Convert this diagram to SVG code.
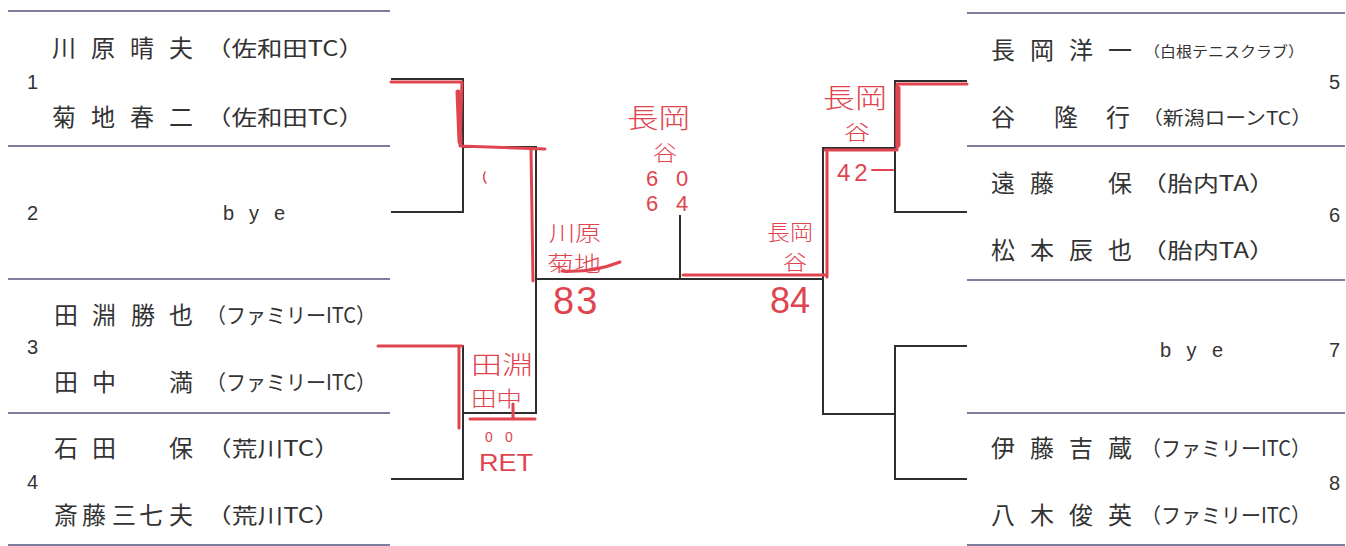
<svg xmlns="http://www.w3.org/2000/svg" width="1346" height="546" viewBox="0 0 1346 546">
<style>
.sep{stroke:#7f7d9e;stroke-width:2;fill:none}
.br{stroke:#2e2e2e;stroke-width:2;fill:none}
.nm{font-family:"Noto Sans CJK JP",sans-serif;font-size:24px;fill:#333}
.cl{font-family:"Noto Sans CJK JP",sans-serif;font-size:21px;fill:#333}
.sd{font-family:"Liberation Sans",Arial,sans-serif;font-size:20px;fill:#333}
.hw{font-family:"Noto Sans CJK JP",sans-serif;font-weight:300;fill:#e0444f}
.hd{font-family:"Liberation Sans",Arial,sans-serif;fill:#e0444f}
.rl{stroke:#e0444f;stroke-width:3;fill:none;stroke-linecap:round;stroke-linejoin:round}
</style>
<rect width="1346" height="546" fill="#fff"/>
<g id="separators">
<path class="sep" d="M8,11H390M8,146H390M8,279H390M8,413H390M8,545H390"/>
<path class="sep" d="M967,13H1345M967,146H1345M967,280H1345M967,413H1345M967,545H1345"/>
</g>
<g id="entry-1">
<text class="sd" x="27" y="89">1</text>
<text class="nm" x="52 91 130 169" y="57">川原晴夫</text>
<text class="cl" x="206" y="56" textLength="158" lengthAdjust="spacingAndGlyphs">（佐和田TC）</text>
<text class="nm" x="52 91 130 169" y="126">菊地春二</text>
<text class="cl" x="206" y="125" textLength="158" lengthAdjust="spacingAndGlyphs">（佐和田TC）</text>
</g>
<g id="entry-2">
<text class="sd" x="27" y="220">2</text>
<text class="sd" x="223" y="220" textLength="62" lengthAdjust="spacing">b y e</text>
</g>
<g id="entry-3">
<text class="sd" x="27" y="354">3</text>
<text class="nm" x="54 92 131 169" y="324">田淵勝也</text>
<text class="cl" x="206" y="323" textLength="170" lengthAdjust="spacingAndGlyphs">（ファミリーITC）</text>
<text class="nm" x="54 92 169" y="391">田中満</text>
<text class="cl" x="206" y="390" textLength="170" lengthAdjust="spacingAndGlyphs">（ファミリーITC）</text>
</g>
<g id="entry-4">
<text class="sd" x="27" y="489">4</text>
<text class="nm" x="54 92 169" y="457">石田保</text>
<text class="cl" x="206" y="456" textLength="134" lengthAdjust="spacingAndGlyphs">（荒川TC）</text>
<text class="nm" x="54 82 112 139 169" y="524">斎藤三七夫</text>
<text class="cl" x="206" y="523" textLength="134" lengthAdjust="spacingAndGlyphs">（荒川TC）</text>
</g>
<g id="entry-5">
<text class="sd" x="1329" y="89">5</text>
<text class="nm" x="991 1030 1069 1108" y="59">長岡洋一</text>
<text class="cl" x="1144" y="57" style="font-size:15px" textLength="160" lengthAdjust="spacingAndGlyphs">（白根テニスクラブ）</text>
<text class="nm" x="991 1054 1106" y="126">谷隆行</text>
<text class="cl" x="1142" y="125" style="font-size:19px" textLength="170" lengthAdjust="spacingAndGlyphs">（新潟ローンTC）</text>
</g>
<g id="entry-6">
<text class="sd" x="1329" y="222">6</text>
<text class="nm" x="991 1030 1108" y="192">遠藤保</text>
<text class="cl" x="1141" y="191" textLength="134" lengthAdjust="spacingAndGlyphs">（胎内TA）</text>
<text class="nm" x="991 1030 1069 1108" y="259">松本辰也</text>
<text class="cl" x="1141" y="258" textLength="134" lengthAdjust="spacingAndGlyphs">（胎内TA）</text>
</g>
<g id="entry-7">
<text class="sd" x="1329" y="357">7</text>
<text class="sd" x="1160" y="357" textLength="63" lengthAdjust="spacing">b y e</text>
</g>
<g id="entry-8">
<text class="sd" x="1329" y="490">8</text>
<text class="nm" x="991 1030 1069 1108" y="457">伊藤吉蔵</text>
<text class="cl" x="1141" y="456" textLength="170" lengthAdjust="spacingAndGlyphs">（ファミリーITC）</text>
<text class="nm" x="991 1030 1069 1108" y="524">八木俊英</text>
<text class="cl" x="1141" y="523" textLength="170" lengthAdjust="spacingAndGlyphs">（ファミリーITC）</text>
</g>
<g id="connectors">
<path class="br" d="M391,79H463V212H391"/>
<path class="br" d="M463,147H536V413H463"/>
<path class="br" d="M391,346H463V479H391"/>
<path class="br" d="M536,279H823"/>
<path class="br" d="M680,215V279"/>
<path class="br" d="M967,81H895V212H967"/>
<path class="br" d="M895,148H823V414H895"/>
<path class="br" d="M967,346H895V479H967"/>
</g>
<g id="annotations">
<path class="rl" d="M391,82H462L460,146L545,149M531,149L533,281"/>
<path class="rl" d="M458,92L460,142" style="stroke-width:5"/>
<path class="rl" d="M485,172Q482,178 486,183" style="stroke-width:1.5"/>
<path class="rl" d="M683,275H825M827,277V151M825,150H895M897,150V84H967"/>
<path class="rl" d="M898,88V145" style="stroke-width:5"/>
<path class="rl" d="M378,346H462M459,348V428M470,419H535M513,404V419"/>
<path class="rl" d="M562,271Q592,273 620,262"/>
<path class="rl" d="M872,170H893" style="stroke-width:2"/>
<text class="hw" x="549" y="241" style="font-size:22px" textLength="52" lengthAdjust="spacingAndGlyphs">川原</text>
<text class="hw" x="547" y="271" style="font-size:21px" textLength="54" lengthAdjust="spacingAndGlyphs">菊地</text>
<text class="hd" x="553" y="314" style="font-size:38px;letter-spacing:2px">83</text>
<text class="hw" x="627" y="128" style="font-size:27px" textLength="63" lengthAdjust="spacingAndGlyphs">長岡</text>
<text class="hw" x="653" y="160" style="font-size:21px" textLength="24" lengthAdjust="spacingAndGlyphs">谷</text>
<text class="hd" x="646 676" y="186" style="font-size:22px">60</text>
<text class="hd" x="646 676" y="211" style="font-size:22px">64</text>
<text class="hw" x="767" y="240" style="font-size:22px" textLength="46" lengthAdjust="spacingAndGlyphs">長岡</text>
<text class="hw" x="783" y="270" style="font-size:20px" textLength="24" lengthAdjust="spacingAndGlyphs">谷</text>
<text class="hd" x="770" y="313" style="font-size:36px">84</text>
<text class="hw" x="823" y="108" style="font-size:27px" textLength="64" lengthAdjust="spacingAndGlyphs">長岡</text>
<text class="hw" x="844" y="140" style="font-size:20px" textLength="26" lengthAdjust="spacingAndGlyphs">谷</text>
<text class="hd" x="837" y="181" style="font-size:24px;letter-spacing:4px">42</text>
<text class="hw" x="471" y="374" style="font-size:25px" textLength="62" lengthAdjust="spacingAndGlyphs">田淵</text>
<text class="hw" x="471" y="406" style="font-size:21px" textLength="51" lengthAdjust="spacingAndGlyphs">田中</text>
<text class="hd" x="485 505" y="442" style="font-size:14px">00</text>
<text class="hd" x="479" y="471" style="font-size:24px" textLength="54" lengthAdjust="spacingAndGlyphs">RET</text>
</g>
</svg>
